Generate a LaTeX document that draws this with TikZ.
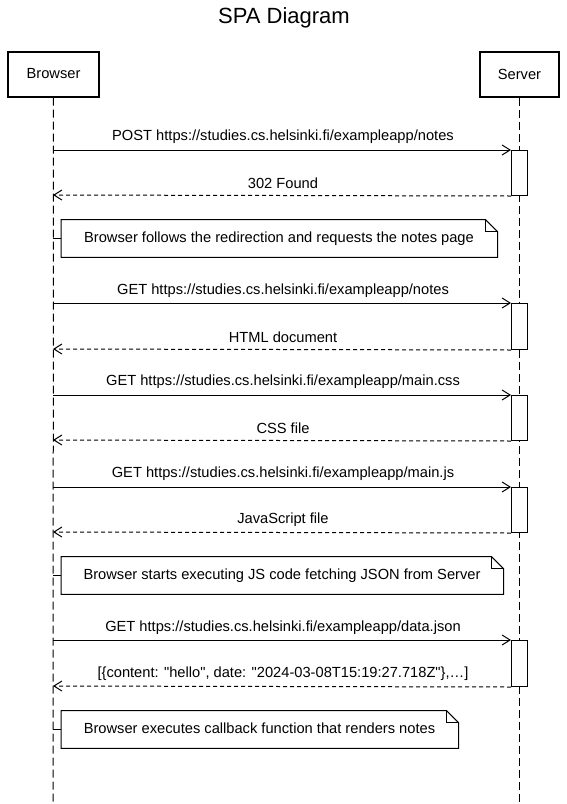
\documentclass[tikz,border=0pt]{standalone}
\usepackage{fontspec}
\setmainfont{Liberation Sans}[Ligatures=TeXOff]
\usetikzlibrary{arrows.meta}
\tikzset{
  x=0.75pt, y=-0.75pt,
  actorbox/.style={draw, line width=1.5pt, minimum height=33.75pt, inner sep=0pt, font=\fontsize{11}{13}\selectfont},
  lifeline/.style={line width=0.75pt, dash pattern=on 6pt off 3pt},
  actbox/.style={draw, line width=0.75pt, fill=white, minimum width=12pt, inner sep=0pt, anchor=north},
  msg/.style={line width=0.75pt, -{Straight Barb[length=6pt,width=7.5pt,line width=0.75pt]}},
  ret/.style={line width=0.75pt, dash pattern=on 3pt off 2.25pt, -{Straight Barb[length=6pt,width=7.5pt,line width=0.75pt]}},
  lbl/.style={font=\fontsize{11}{13}\selectfont, inner sep=0pt},
  notebox/.style={inner sep=0pt, minimum height=27.75pt, anchor=west, font=\fontsize{11}{13}\selectfont},
  noteline/.style={line width=0.75pt},
}
\newcommand{\drawnote}[1]{%
  \draw[noteline, fill=white] (#1.north west) -- ([xshift=-9pt]#1.north east) -- ([yshift=-9pt]#1.north east) -- (#1.south east) -- (#1.south west) -- cycle;
  \draw[noteline] ([xshift=-9pt]#1.north east) -- ([xshift=-9pt,yshift=-9pt]#1.north east) -- ([yshift=-9pt]#1.north east);
}
\begin{document}
\begin{tikzpicture}
\useasboundingbox[fill=white] (0,0) rectangle (567,804);
% title
\node[font=\fontsize{16.5}{19}\selectfont] (title) at (284,18) {SPA Diagram};
% actors
\node[actorbox, minimum width=68.25pt] (browser) at (53.5,74) {Browser};
\node[actorbox, minimum width=59.25pt] (server) at (519.5,74) {Server};
\coordinate (bend) at (53,804);
\coordinate (send) at (519.5,804);
\draw[lifeline] (browser.south) -- (bend);
\draw[lifeline] (server.south) -- (send);
% activations
\node[actbox, minimum height=33.75pt] (a1) at (519.5,150) {};
\node[actbox, minimum height=34.5pt] (a2) at (519.5,303) {};
\node[actbox, minimum height=33.75pt] (a3) at (519.5,395) {};
\node[actbox, minimum height=33.75pt] (a4) at (519.5,487) {};
\node[actbox, minimum height=34.5pt] (a5) at (519.5,640) {};
% lifeline points
\coordinate (b1) at (53,150);
\coordinate (b2) at (53,195);
\coordinate (b3) at (53,303);
\coordinate (b4) at (53,349);
\coordinate (b5) at (53,395);
\coordinate (b6) at (53,440);
\coordinate (b7) at (53,487);
\coordinate (b8) at (53,532);
\coordinate (b9) at (53,640);
\coordinate (b10) at (53,686);
\coordinate (n1s) at (53,238.5);
\coordinate (n2s) at (53,575.5);
\coordinate (n3s) at (53,729.5);
% messages
\draw[msg] (b1) -- (a1.north west);
\node[lbl] (l1) at (283,137) {POST https://studies.cs.helsinki.fi/exampleapp/notes};
\draw[ret] (a1.south west) -- (b2);
\node[lbl] (l2) at (283,183) {302 Found};
% note 1
\node[notebox, minimum width=327pt] (n1) at (61,238.5) {};
\drawnote{n1}
\node[lbl] (n1t) at (279,238.5) {Browser follows the redirection and requests the notes page};
\draw[noteline] (n1s) -- (n1.west);
\draw[msg] (b3) -- (a2.north west);
\node[lbl] (l3) at (283,291) {GET https://studies.cs.helsinki.fi/exampleapp/notes};
\draw[ret] (a2.south west) -- (b4);
\node[lbl] (l4) at (283,337) {HTML document};
\draw[msg] (b5) -- (a3.north west);
\node[lbl] (l5) at (283,382) {GET https://studies.cs.helsinki.fi/exampleapp/main.css};
\draw[ret] (a3.south west) -- (b6);
\node[lbl] (l6) at (283,428) {CSS file};
\draw[msg] (b7) -- (a4.north west);
\node[lbl] (l7) at (283,474) {GET https://studies.cs.helsinki.fi/exampleapp/main.js};
\draw[ret] (a4.south west) -- (b8);
\node[lbl] (l8) at (283,520) {JavaScript file};
% note 2
\node[notebox, minimum width=331.5pt] (n2) at (61,575.5) {};
\drawnote{n2}
\node[lbl] (n2t) at (282,575.5) {Browser starts executing JS code fetching JSON from Server};
\draw[noteline] (n2s) -- (n2.west);
\draw[msg] (b9) -- (a5.north west);
\node[lbl] (l9) at (283,628) {GET https://studies.cs.helsinki.fi/exampleapp/data.json};
\draw[ret] (a5.south west) -- (b10);
\node[lbl] (l10) at (283,674) {[\{content: "hello", date: "2024-03-08T15:19:27.718Z"\},…]};
% note 3
\node[notebox, minimum width=297.75pt] (n3) at (61,729.5) {};
\drawnote{n3}
\node[lbl] (n3t) at (259.5,728) {Browser executes callback function that renders notes};
\draw[noteline] (n3s) -- (n3.west);
\end{tikzpicture}
\end{document}
